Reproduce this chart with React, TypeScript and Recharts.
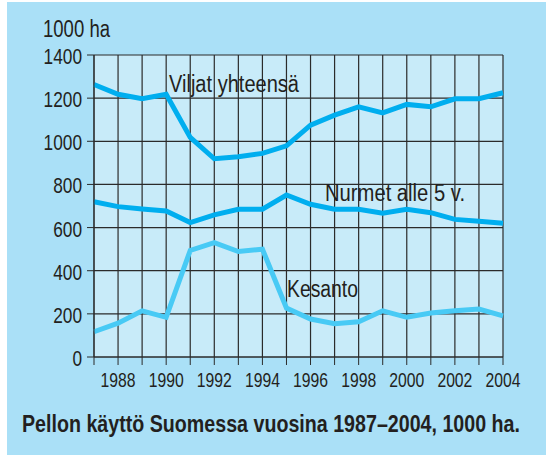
import React from 'react';
import { LineChart, Line, XAxis, YAxis, CartesianGrid } from 'recharts';

const years = [1987, 1988, 1989, 1990, 1991, 1992, 1993, 1994, 1995, 1996, 1997, 1998, 1999, 2000, 2001, 2002, 2003, 2004];
const viljat = [1263, 1218, 1197, 1218, 1018, 919, 928, 944, 979, 1075, 1121, 1160, 1132, 1171, 1160, 1197, 1197, 1225];
const nurmet = [720, 697, 686, 677, 623, 659, 685, 685, 751, 708, 685, 685, 666, 685, 669, 638, 629, 620];
const kesanto = [117, 157, 214, 184, 494, 530, 489, 500, 227, 176, 154, 163, 214, 184, 204, 214, 222, 191];
const yTicks = [0, 200, 400, 600, 800, 1000, 1200, 1400];

const data = years.map((year, i) => ({
  year,
  viljat: viljat[i],
  nurmet: nurmet[i],
  kesanto: kesanto[i],
}));

const FONT = '"Liberation Sans", Arial, sans-serif';
const INK = '#231f20';

// condensed look: squeeze Liberation Sans to the narrow width of the original
const YTick = (props: any) => {
  const s = String(props.payload.value);
  return (
    <text x={props.x} y={props.y} dy={9} textAnchor="end" fill={INK} fontFamily={FONT} fontSize={22}
      textLength={s.length * 9.6} lengthAdjust="spacingAndGlyphs">
      {s}
    </text>
  );
};

const XTick = (props: any) => {
  const v = props.payload.value;
  if (v % 2 !== 0) return <g />;
  return (
    <text x={props.x} y={387} textAnchor="middle" fill={INK} fontFamily={FONT} fontSize={20}
      textLength={35} lengthAdjust="spacingAndGlyphs">
      {String(v)}
    </text>
  );
};

export default function App() {
  return (
    <div style={{ position: 'absolute', left: 0, top: 0, width: 546, height: 456, background: '#fff' }}>
      <div style={{ position: 'absolute', left: 7, top: 2, width: 539, height: 453, background: '#aae0f7' }} />
      <div style={{ position: 'absolute', left: 0, top: 0 }}>
        <LineChart width={546} height={456} data={data} margin={{ top: 55, right: 43, left: 34, bottom: 69 }}>
          <CartesianGrid stroke="#2b2b2b" strokeWidth={1.2} fill="#c8ebf9" fillOpacity={1} />
          <XAxis
            dataKey="year"
            type="number"
            domain={[1987, 2004]}
            ticks={years}
            interval={0}
            height={30}
            tickSize={8}
            stroke="#2b2b2b"
            tick={<XTick />}
          />
          <YAxis
            type="number"
            domain={[0, 1400]}
            ticks={yTicks}
            width={60}
            tickSize={7}
            tickMargin={5}
            stroke="#2b2b2b"
            tick={<YTick />}
          />
          <Line dataKey="viljat" stroke="#00aeef" strokeWidth={5} dot={false} isAnimationActive={false} />
          <Line dataKey="nurmet" stroke="#00aeef" strokeWidth={5} dot={false} isAnimationActive={false} />
          <Line dataKey="kesanto" stroke="#48caf5" strokeWidth={5} dot={false} isAnimationActive={false} />
        </LineChart>
      </div>
      <svg width={546} height={456} style={{ position: 'absolute', left: 0, top: 0, pointerEvents: 'none' }}>
        <g fill={INK} fontFamily={FONT} fontSize={23}>
          <text x={43} y={37} textLength={67} lengthAdjust="spacingAndGlyphs">1000 ha</text>
          <text x={169} y={92} textLength={130} lengthAdjust="spacingAndGlyphs">Viljat yhteensä</text>
          <text x={325} y={201} textLength={140} lengthAdjust="spacingAndGlyphs">Nurmet alle 5 v.</text>
          <text x={287} y={297} textLength={71} lengthAdjust="spacingAndGlyphs">Kesanto</text>
          <text x={22} y={432} fontWeight="bold" fontSize={24} textLength={498} lengthAdjust="spacingAndGlyphs">
            Pellon käyttö Suomessa vuosina 1987–2004, 1000 ha.
          </text>
        </g>
      </svg>
    </div>
  );
}
